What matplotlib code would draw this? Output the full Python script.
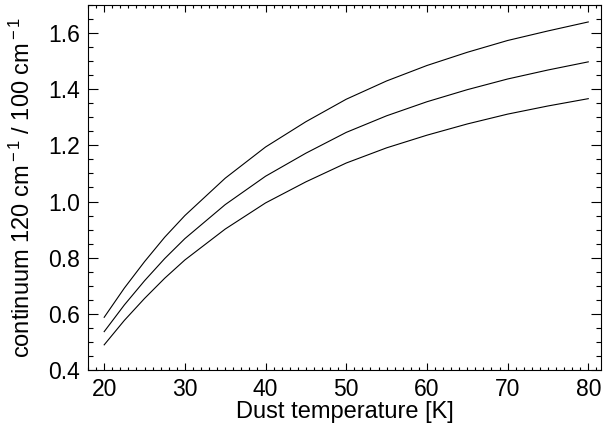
import matplotlib
matplotlib.use('Agg')

import numpy as np
import matplotlib.pyplot as plt
from matplotlib.ticker import MultipleLocator

plt.rcParams['font.family'] = ['Liberation Sans', 'DejaVu Sans']
plt.rcParams['mathtext.fontset'] = 'custom'
plt.rcParams['mathtext.rm'] = 'Liberation Sans'
plt.rcParams['mathtext.it'] = 'Liberation Sans'

# dust temperature grid [K]
temperature = [20, 22.5, 25, 27.5, 30, 35, 40, 45, 50, 55, 60, 65, 70, 75, 80]

# 120 cm^-1 / 100 cm^-1 continuum ratio, one curve per emissivity index
ratio_beta20 = [0.588, 0.692, 0.786, 0.873, 0.950, 1.083, 1.194, 1.284, 1.364, 1.429, 1.484, 1.531, 1.573, 1.607, 1.639]
ratio_beta15 = [0.537, 0.632, 0.718, 0.797, 0.868, 0.989, 1.090, 1.172, 1.246, 1.305, 1.355, 1.398, 1.436, 1.468, 1.497]
ratio_beta10 = [0.490, 0.577, 0.655, 0.727, 0.792, 0.902, 0.995, 1.070, 1.137, 1.191, 1.236, 1.276, 1.311, 1.340, 1.366]

fig = plt.figure(figsize=(6.03, 4.37), dpi=100)
ax = fig.add_axes([0.146, 0.153, 0.851, 0.836])

for ratio in (ratio_beta20, ratio_beta15, ratio_beta10):
    ax.plot(temperature, ratio, color='black', linewidth=0.8)

ax.set_xlim(18.0, 81.6)
ax.set_ylim(0.40, 1.70)

ax.xaxis.set_major_locator(MultipleLocator(10))
ax.xaxis.set_minor_locator(MultipleLocator(1))
ax.yaxis.set_major_locator(MultipleLocator(0.2))
ax.yaxis.set_minor_locator(MultipleLocator(0.05))
ax.yaxis.set_major_formatter(plt.FormatStrFormatter('%.1f'))

ax.tick_params(axis='both', which='both', direction='in', top=True, right=True,
               labelsize=16.5, width=0.8, pad=6)
ax.tick_params(axis='x', which='major', length=5)
ax.tick_params(axis='x', which='minor', length=2.5)
ax.tick_params(axis='y', which='major', length=7.5)
ax.tick_params(axis='y', which='minor', length=3.8)
for spine in ax.spines.values():
    spine.set_linewidth(0.8)

ax.set_xlabel('Dust temperature [K]', fontsize=17, labelpad=0)
ax.set_ylabel(r'continuum 120 cm$^{\rm -1}$ / 100 cm$^{\rm -1}$', fontsize=17, labelpad=9)

plt.savefig('out.png', dpi=100)
plt.close(fig)
